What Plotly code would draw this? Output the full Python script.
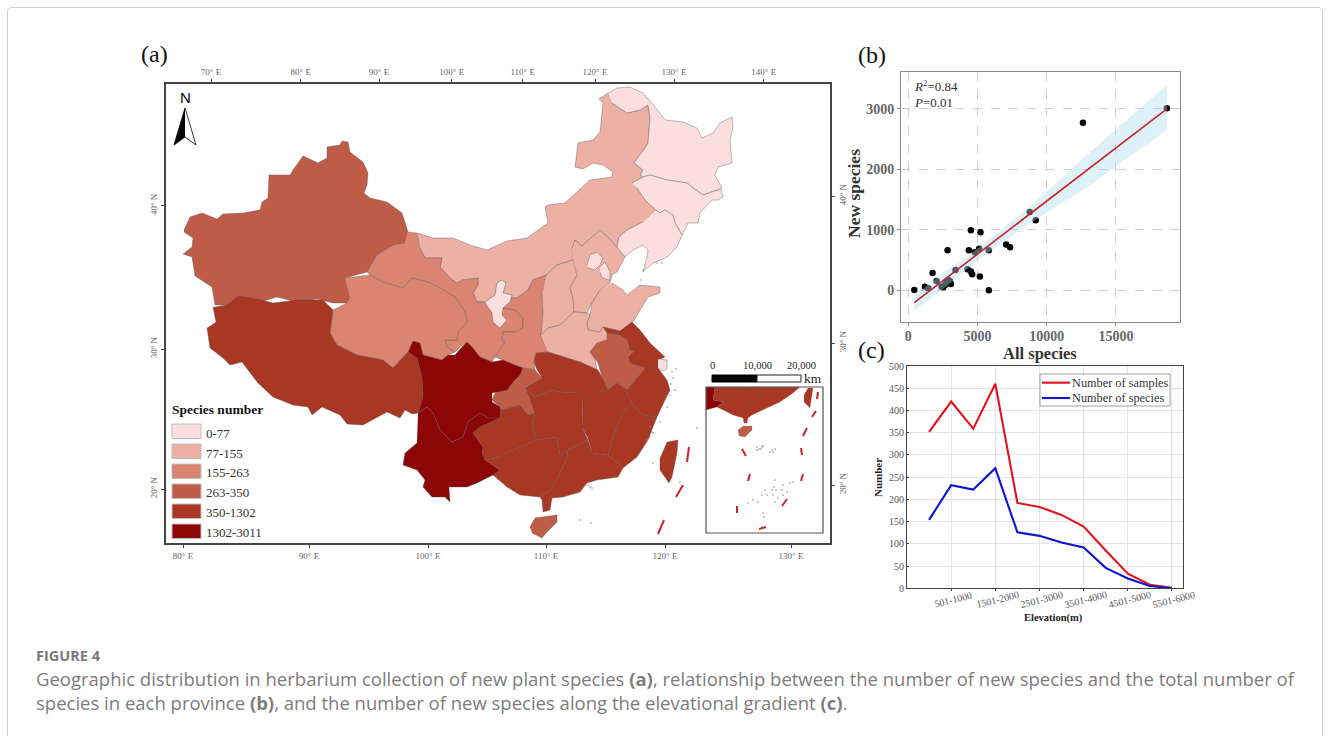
import plotly.graph_objects as go

W, H = 1330, 736
SERIF = "Liberation Serif"

def px(x):
    return x / W

def py(y):
    return 1 - y / H

# ---------- panel (a): species classes ----------
CLASS_LABELS = ["0-77", "77-155", "155-263", "263-350", "350-1302", "1302-3011"]
CLASS_COLOURS = ["#FBDEDD", "#EDB0A4", "#DC8472", "#BF5C48", "#A83723", "#8C0608"]

# Outlines, in the map plane of the figure
XINJIANG = [(184,230),(190,217),(202,213),(217,219),(223,214),(243,213),(260,210),(262,202),(268,198),(269,175),(290,175),(293,170),(303,156),(318,163),(327,158),(327,147),(340,145),(342,141),(348,142),(350,152),(363,162),(368,173),(367,185),(364,193),(370,198),(387,202),(402,213),(408,232),(405,243),(393,245),(377,255),(367,272),(345,278),(350,297),(347,303),(333,303),(317,299),(297,302),(277,297),(260,302),(238,296),(227,305),(215,305),(212,287),(195,276),(192,257),(183,254),(192,247),(193,238),(184,232)]
TIBET = [(215,307),(227,305),(238,296),(258,299),(273,303),(297,300),(323,300),(333,310),(330,333),(337,345),(357,355),(383,360),(393,368),(408,352),(417,358),(422,377),(423,397),(418,413),(412,414),(405,410),(400,418),(387,412),(363,425),(347,424),(340,415),(322,407),(312,415),(308,407),(293,405),(273,397),(258,383),(242,362),(230,365),(223,358),(210,348),(207,328),(212,325),(216,322),(213,307)]
QINGHAI = [(345,278),(370,275),(383,282),(403,288),(412,278),(428,282),(440,288),(455,297),(465,312),(467,322),(458,332),(457,340),(445,340),(447,347),(455,352),(448,355),(442,360),(435,358),(423,355),(420,343),(413,341),(408,352),(393,368),(383,360),(357,355),(337,345),(330,333),(333,310),(347,303),(350,297)]
GANSU = [(408,232),(417,233),(420,248),(425,258),(442,258),(440,267),(450,278),(457,283),(463,280),(478,278),(478,285),(473,293),(477,302),(485,302),(492,312),(493,322),(500,328),(507,320),(502,315),(503,308),(515,310),(523,318),(523,328),(515,332),(503,332),(502,340),(505,342),(498,352),(495,357),(492,362),(480,357),(472,347),(467,342),(460,347),(455,352),(447,347),(445,340),(457,340),(458,332),(467,322),(465,312),(455,297),(440,288),(428,282),(412,278),(403,288),(383,282),(370,275),(367,272),(377,255),(393,245),(405,243)]
NINGXIA = [(485,302),(495,295),(497,283),(502,280),(506,283),(503,293),(512,295),(510,302),(503,308),(502,315),(507,320),(500,328),(493,322),(492,312)]
SHAANXI = [(546,275),(533,280),(528,290),(517,298),(510,298),(510,302),(503,308),(515,310),(523,318),(523,328),(515,332),(503,332),(502,340),(505,342),(498,352),(495,357),(503,360),(515,365),(523,368),(535,370),(534,362),(536,353),(548,352),(541,335),(543,315),(542,293)]
INNER_MONGOLIA = [(417,233),(433,238),(453,238),(470,245),(487,250),(507,241),(527,238),(538,230),(548,223),(545,207),(548,205),(565,203),(582,188),(590,180),(612,177),(613,172),(603,165),(593,163),(583,169),(575,167),(578,143),(593,140),(600,132),(602,113),(603,103),(599,99),(608,93),(612,103),(627,113),(640,110),(648,105),(650,117),(648,143),(645,148),(634,163),(643,170),(640,175),(643,177),(632,183),(637,188),(645,200),(656,210),(643,222),(627,230),(619,237),(617,247),(608,237),(600,230),(582,246),(575,240),(572,248),(573,260),(557,265),(546,275),(533,280),(528,290),(517,298),(510,298),(512,295),(503,293),(506,283),(502,280),(497,283),(495,295),(485,302),(477,302),(473,293),(478,285),(478,278),(463,280),(457,283),(450,278),(440,267),(442,258),(425,258),(420,248)]
HEILONGJIANG = [(608,93),(617,88),(630,87),(643,93),(655,107),(665,120),(683,122),(697,128),(702,138),(713,133),(720,123),(732,117),(733,127),(730,140),(732,163),(718,167),(715,175),(722,188),(703,195),(693,188),(687,183),(667,180),(650,175),(643,177),(640,175),(643,170),(634,163),(645,148),(648,143),(650,117),(648,105),(640,110),(627,113),(612,103)]
JILIN = [(632,183),(643,177),(650,175),(667,180),(687,183),(693,188),(703,195),(721,189),(723,197),(718,200),(712,200),(700,213),(698,223),(688,223),(682,235),(675,223),(673,215),(665,210),(660,213),(656,210),(645,200),(637,188)]
LIAONING = [(656,210),(660,213),(665,210),(673,215),(675,223),(682,235),(677,247),(667,257),(653,263),(643,272),(647,257),(648,250),(643,245),(633,250),(625,257),(617,247),(619,237),(627,230),(643,222)]
HEBEI = [(572,248),(575,240),(582,246),(600,230),(608,237),(617,247),(625,257),(617,272),(612,275),(610,283),(600,290),(592,303),(587,313),(574,312),(573,298),(570,288),(577,275),(573,260)]
BEIJING = [(587,265),(590,255),(597,252),(603,258),(600,265),(595,270),(588,268)]
TIANJIN = [(600,267),(605,262),(610,272),(610,280),(602,278),(600,272)]
SHANXI = [(573,260),(557,265),(546,275),(542,293),(543,315),(541,335),(548,328),(560,325),(574,312),(573,298),(570,288),(577,275)]
SHANDONG = [(612,283),(623,290),(627,295),(640,285),(660,287),(660,293),(648,297),(643,305),(633,322),(620,331),(603,327),(600,332),(588,330),(587,323),(590,315),(592,303),(600,290)]
HENAN = [(541,335),(548,328),(560,325),(574,312),(587,313),(590,315),(587,323),(588,330),(600,332),(603,327),(607,333),(607,340),(597,343),(590,352),(595,360),(597,370),(580,362),(567,358),(548,352)]
JIANGSU = [(603,327),(620,331),(632,322),(640,330),(650,343),(665,357),(658,360),(658,368),(645,368),(630,363),(628,357),(635,350),(630,350),(627,340),(620,335),(607,333)]
SHANGHAI = [(658,359),(667,360),(667,369),(662,371),(658,368)]
ANHUI = [(607,333),(620,335),(627,340),(630,350),(635,350),(628,357),(630,363),(645,368),(637,378),(627,390),(617,383),(608,390),(602,377),(598,363),(590,352),(597,343),(607,340)]
ZHEJIANG = [(645,368),(658,368),(667,380),(670,390),(665,400),(662,407),(657,417),(643,415),(635,407),(628,397),(627,390),(637,378)]
FUJIAN = [(628,397),(635,407),(643,415),(657,417),(653,427),(648,440),(637,457),(623,468),(608,455),(612,440),(623,412),(628,407)]
JIANGXI = [(583,397),(605,390),(608,390),(617,383),(627,390),(628,397),(628,407),(623,412),(612,440),(608,455),(592,453),(588,438),(582,427)]
HUBEI = [(537,370),(534,362),(536,353),(548,352),(567,358),(580,362),(598,370),(602,377),(608,390),(605,390),(583,398),(578,393),(560,392),(552,390),(535,397),(525,388),(542,378)]
CHONGQING = [(523,368),(535,370),(542,378),(525,388),(530,400),(535,413),(528,415),(520,405),(503,410),(492,400),(495,393),(513,382),(520,375)]
HUNAN = [(525,388),(535,397),(552,390),(560,392),(578,393),(583,397),(582,427),(588,440),(568,450),(560,455),(557,437),(537,440),(532,425),(535,413),(530,400)]
GUIZHOU = [(473,433),(480,427),(500,418),(500,408),(503,410),(520,405),(528,415),(535,413),(532,425),(537,440),(513,450),(500,457),(485,460),(482,453),(483,447)]
GUANGXI = [(485,460),(500,457),(513,450),(537,440),(557,437),(560,455),(568,450),(567,458),(558,477),(550,490),(540,497),(520,495),(507,487),(493,475),(500,470)]
GUANGDONG = [(567,458),(568,450),(588,440),(592,453),(608,455),(623,468),(618,477),(597,480),(587,483),(580,492),(563,497),(552,498),(550,510),(543,512),(542,500),(540,497),(550,490),(558,477)]
HAINAN = [(530,527),(535,518),(557,515),(557,522),(547,532),(542,538),(532,533)]
TAIWAN = [(667,442),(678,440),(677,453),(672,477),(669,483),(660,470),(660,458)]
SICHUAN = [(413,341),(420,343),(423,355),(435,358),(442,360),(448,355),(455,355),(462,347),(467,342),(472,347),(480,357),(492,362),(503,360),(515,365),(523,368),(520,375),(513,382),(507,390),(492,393),(492,402),(500,407),(500,418),(488,418),(480,413),(468,422),(463,437),(452,442),(440,430),(433,413),(427,407),(418,413),(423,397),(422,377),(417,358),(408,352)]
YUNNAN = [(418,413),(427,407),(433,413),(440,430),(452,442),(463,437),(468,422),(480,413),(488,418),(500,418),(480,427),(473,433),(483,447),(482,453),(485,460),(500,470),(493,475),(477,483),(467,487),(449,487),(450,502),(445,497),(432,497),(423,487),(425,480),(417,470),(403,465),(405,453),(417,443)]

PROVINCES = [
    (INNER_MONGOLIA, 1), (HEILONGJIANG, 0), (JILIN, 0), (LIAONING, 0), (XINJIANG, 3), (GANSU, 2),
    (QINGHAI, 2), (TIBET, 4), (SHAANXI, 2), (NINGXIA, 0), (SHANXI, 1), (HEBEI, 1), (BEIJING, 0),
    (TIANJIN, 0), (SHANDONG, 1), (HENAN, 1), (JIANGSU, 4), (SHANGHAI, 0), (ANHUI, 3), (ZHEJIANG, 4),
    (FUJIAN, 4), (JIANGXI, 4), (HUBEI, 4), (CHONGQING, 3), (HUNAN, 4), (GUIZHOU, 4), (GUANGXI, 4),
    (GUANGDONG, 4), (HAINAN, 3), (TAIWAN, 4), (SICHUAN, 5), (YUNNAN, 5),
]

SEA_DASHES = [[(689,447),(687,462)], [(683,485),(676,497)], [(664,520),(658,534)]]
COAST_DOTS = [(672,372),(676,369),(673,378),(671,384),(675,390),(670,395),(667,407),(660,422),(652,432),(650,437),(653,463),(680,482),(590,487),(580,520),(591,523),(643,270),(657,263),(662,263),(641,280),(588,485),(592,488),(577,493),(650,427),(653,433),(647,440),(697,428)]

# Inset
INSET_YUNNAN = [(706,387),(715,387),(713,400),(723,402),(717,407),(708,410),(706,410)]
INSET_SOUTH = [(715,387),(800,387),(793,393),(780,402),(767,408),(752,415),(748,418),(747,423),(744,423),(743,418),(733,415),(723,410),(717,407),(723,402),(713,400)]
INSET_HAINAN = [(738,430),(743,426),(752,426),(752,430),(745,437),(739,436)]
INSET_TAIWAN = [(808,388),(813,388),(810,408),(804,402),(804,395)]
INSET_BORDERS = [[(723,402),(737,392),(750,388),(757,387)], [(743,410),(757,400),(758,393),(767,392),(780,387)]]
INSET_DASHES = [[(818,392),(817,399)], [(816,411),(812,417)], [(807,428),(803,436)], [(801,448),(802,455)], [(803,474),(801,481)], [(787,499),(782,506)], [(766,527),(759,529)], [(737,506),(737,513)], [(750,474),(748,481)], [(742,449),(746,456)]]
INSET_DOTS = [(757,447),(759,449),(762,447),(757,450),(761,449),(763,446),(772,450),(775,449),(770,452),(773,452),(775,480),(774,487),(772,490),(776,490),(783,485),(790,483),(793,482),(782,490),(787,492),(765,490),(762,495),(767,495),(753,500),(748,503),(758,502),(773,495),(778,498),(775,502),(783,495),(763,513),(764,517),(762,527)]

ARROW_LEFT = [(185,108),(174,145),(185,137)]
ARROW_RIGHT = [(185,108),(196,145),(185,137)]

MAP_TOP_TICKS = [211, 300.7, 379, 451.7, 522.7, 595, 674, 763.7]
MAP_TOP_TEXT = ["70° E", "80° E", "90° E", "100° E", "110° E", "120° E", "130° E", "140° E"]
MAP_BOTTOM_TICKS = [183, 309, 428, 546, 665, 791]
MAP_BOTTOM_TEXT = ["80° E", "90° E", "100° E", "110° E", "120° E", "130° E"]
MAP_LEFT_TICKS = [205.7, 349, 489]
MAP_RIGHT_TICKS = [196, 343, 485]
MAP_LAT_TEXT = ["40° N", "30° N", "20° N"]

# ---------- panel (b) ----------
ALL_SPECIES = [433,1200,1440,1755,2043,2404,2524,2644,2764,2885,3005,3077,2837,3413,4375,4279,4519,4615,5168,4519,5216,4808,5120,5817,5817,7067,7356,8774,9207,12620,18680]
NEW_SPECIES = [5,60,33,287,154,60,50,88,143,171,154,105,662,336,662,347,309,265,226,993,960,629,689,662,0,756,711,1296,1158,2774,3011]
FIT_X = [433, 18680]
FIT_Y = [-204, 3000]
BAND_X = [433, 2644, 5048, 8774, 12620, 18680]
BAND_UPPER = [-88, 309, 695, 1384, 2184, 3398]
BAND_LOWER = [-342, 44, 502, 1109, 1660, 2653]

# ---------- panel (c) ----------
ELEVATION_BANDS = ["0-500","501-1000","1001-1500","1501-2000","2001-2500","2501-3000","3001-3500","3501-4000","4001-4500","4501-5000","5001-5500","5501-6000"]
SAMPLES = [352, 420, 359, 460, 192, 183, 165, 139, 85, 33, 8, 1]
SPECIES = [154, 232, 222, 270, 126, 118, 103, 92, 46, 22, 5, 0]

fig = go.Figure()

def xs(p):
    return [a for a, _ in p]

def ys(p):
    return [b for _, b in p]

def poly(points, colour, line="rgba(85,85,85,0.65)", width=0.6, name=""):
    fig.add_trace(go.Scatter(x=xs(points), y=ys(points), mode="lines", fill="toself", fillcolor=colour,
                             line=dict(color=line, width=width), hoverinfo="skip", showlegend=False, name=name))

for shape, cls in PROVINCES:
    poly(shape, CLASS_COLOURS[cls])

for dash in SEA_DASHES + INSET_DASHES:
    fig.add_trace(go.Scatter(x=xs(dash), y=ys(dash), mode="lines", line=dict(color="#C8242C", width=2),
                             hoverinfo="skip", showlegend=False))

fig.add_trace(go.Scatter(x=xs(COAST_DOTS + INSET_DOTS), y=ys(COAST_DOTS + INSET_DOTS), mode="markers",
                         marker=dict(color="#8a8a8a", size=1.6), hoverinfo="skip", showlegend=False))

poly(INSET_SOUTH, CLASS_COLOURS[4], line="rgba(120,120,120,0.5)", width=0.4)
poly(INSET_YUNNAN, CLASS_COLOURS[5], line="rgba(120,120,120,0.5)", width=0.4)
poly(INSET_HAINAN, CLASS_COLOURS[3], line="rgba(120,120,120,0.5)", width=0.4)
poly(INSET_TAIWAN, CLASS_COLOURS[4], line="rgba(120,120,120,0.5)", width=0.4)
for b in INSET_BORDERS:
    fig.add_trace(go.Scatter(x=xs(b), y=ys(b), mode="lines", line=dict(color="rgba(90,90,90,0.7)", width=0.6),
                             hoverinfo="skip", showlegend=False))

poly(ARROW_LEFT, "#000000", line="#000000", width=0.8)
poly(ARROW_RIGHT, "#ffffff", line="#000000", width=0.8)

# overlay axes carriers for the map frame's top and right scales
fig.add_trace(go.Scatter(x=[None], y=[None], xaxis="x2", yaxis="y2", hoverinfo="skip", showlegend=False))

# panel (b)
fig.add_trace(go.Scatter(x=ALL_SPECIES, y=NEW_SPECIES, mode="markers", xaxis="x3", yaxis="y3",
                         marker=dict(color="#000000", size=6.5), showlegend=False, name="Provinces"))
fig.add_trace(go.Scatter(x=BAND_X + BAND_X[::-1], y=BAND_UPPER + BAND_LOWER[::-1], mode="lines", fill="toself",
                         xaxis="x3", yaxis="y3", fillcolor="rgba(176,220,238,0.42)", line=dict(width=0),
                         hoverinfo="skip", showlegend=False))
fig.add_trace(go.Scatter(x=FIT_X, y=FIT_Y, mode="lines", xaxis="x3", yaxis="y3",
                         line=dict(color="#C9252B", width=1.6), hoverinfo="skip", showlegend=False))

# panel (c)
SAMPLE_COLOUR, SPECIES_COLOUR = "#E3131B", "#0E14D0"
fig.add_trace(go.Scatter(x=ELEVATION_BANDS, y=SAMPLES, mode="lines", xaxis="x4", yaxis="y4",
                         line=dict(color=SAMPLE_COLOUR, width=2.1), name="Number of samples", showlegend=False))
fig.add_trace(go.Scatter(x=ELEVATION_BANDS, y=SPECIES, mode="lines", xaxis="x4", yaxis="y4",
                         line=dict(color=SPECIES_COLOUR, width=2.1), name="Number of species", showlegend=False))

map_tick = dict(showgrid=False, zeroline=False, ticks="outside", ticklen=3, tickwidth=1, tickcolor="#444",
                showline=True, linecolor="#444", linewidth=2,
                tickfont=dict(family=SERIF, size=9, color="#666"))
X_RANGE = [166, 830]
Y_RANGE = [543, 83.5]

layout = dict(
    width=W, height=H, autosize=False, margin=dict(l=0, r=0, t=0, b=0, autoexpand=False),
    paper_bgcolor="#ffffff", plot_bgcolor="rgba(0,0,0,0)",
    xaxis=dict(domain=[px(166), px(830)], range=X_RANGE, anchor="y", side="bottom", tickmode="array",
               tickvals=MAP_BOTTOM_TICKS, ticktext=MAP_BOTTOM_TEXT, **map_tick),
    yaxis=dict(domain=[py(543), py(83.5)], range=Y_RANGE, anchor="x", side="left", tickmode="array",
               tickvals=MAP_LEFT_TICKS, ticktext=MAP_LAT_TEXT, tickangle=-90, **map_tick),
    xaxis2=dict(domain=[px(166), px(830)], range=X_RANGE, anchor="y2", side="top", overlaying="x", tickmode="array",
                tickvals=MAP_TOP_TICKS, ticktext=MAP_TOP_TEXT, **map_tick),
    yaxis2=dict(domain=[py(543), py(83.5)], range=Y_RANGE, anchor="x2", side="right", overlaying="y", tickmode="array",
                tickvals=MAP_RIGHT_TICKS, ticktext=MAP_LAT_TEXT, tickangle=-90, **map_tick),
    xaxis3=dict(domain=[px(901), px(1180)], range=[-527, 19630], anchor="y3", tickmode="array",
                tickvals=[0, 5000, 10000, 15000], ticktext=["<b>0</b>", "<b>5000</b>", "<b>10000</b>", "<b>15000</b>"],
                showline=True, mirror=True, linecolor="#8a8a8a", linewidth=1, zeroline=False,
                showgrid=True, gridcolor="#cfcfcf", griddash="dash", gridwidth=1,
                ticks="outside", ticklen=3, tickcolor="#8a8a8a", ticklabelstandoff=-2,
                tickfont=dict(family=SERIF, size=14, color="#666")),
    yaxis3=dict(domain=[py(322), py(72)], range=[-525, 3612], anchor="x3", tickmode="array",
                tickvals=[0, 1000, 2000, 3000], ticktext=["<b>0</b>", "<b>1000</b>", "<b>2000</b>", "<b>3000</b>"],
                showline=True, mirror=True, linecolor="#8a8a8a", linewidth=1, zeroline=False,
                showgrid=True, gridcolor="#cfcfcf", griddash="dash", gridwidth=1,
                ticks="outside", ticklen=3, tickcolor="#8a8a8a",
                tickfont=dict(family=SERIF, size=14, color="#666")),
    xaxis4=dict(domain=[px(907), px(1183)], range=[-1, 11.5], anchor="y4", type="category",
                categoryorder="array", categoryarray=ELEVATION_BANDS, tickmode="array",
                tickvals=ELEVATION_BANDS[1::2], showticklabels=False,
                showline=True, mirror=True, linecolor="#444", linewidth=1, zeroline=False,
                showgrid=True, gridcolor="#e4e4e4", gridwidth=1, ticks="outside", ticklen=2, tickcolor="#444"),
    yaxis4=dict(domain=[py(588.3), py(366)], range=[0, 500], anchor="x4", tickmode="linear", tick0=0, dtick=50,
                showline=True, mirror=True, linecolor="#444", linewidth=1, zeroline=False,
                showgrid=True, gridcolor="#e4e4e4", gridwidth=1, ticks="inside", ticklen=2, tickcolor="#444",
                tickfont=dict(family=SERIF, size=10, color="#555")),
    showlegend=False,
    hovermode=False,
)

shapes = []
# page frame
shapes.append(dict(type="path", xref="paper", yref="paper",
                   path=f"M {px(7.5)} 0 L {px(7.5)} {py(12)} Q {px(7.5)} {py(7.5)} {px(12)} {py(7.5)} "
                        f"L {px(1318)} {py(7.5)} Q {px(1322.5)} {py(7.5)} {px(1322.5)} {py(12)} L {px(1322.5)} 0",
                   line=dict(color="#cfcfcf", width=1)))
# inset frame
shapes.append(dict(type="rect", xref="x", yref="y", x0=706, x1=823, y0=387, y1=533,
                   line=dict(color="#555", width=1.2), layer="above"))
# scale bar
shapes.append(dict(type="rect", xref="x", yref="y", x0=712, x1=757, y0=375, y1=382, fillcolor="#000", line=dict(color="#000", width=1)))
shapes.append(dict(type="rect", xref="x", yref="y", x0=757, x1=801, y0=375, y1=382, fillcolor="#fff", line=dict(color="#222", width=1)))
# legend swatches
SWATCH_TOPS = [424, 444, 464, 484, 504, 524]
for top, colour in zip(SWATCH_TOPS, CLASS_COLOURS):
    shapes.append(dict(type="rect", xref="x", yref="y", x0=172, x1=201, y0=top, y1=top + 14.5,
                       fillcolor=colour, line=dict(color="#bdbdbd", width=1)))
# panel (c) legend box and keys
shapes.append(dict(type="rect", xref="paper", yref="paper", x0=px(1040), x1=px(1170), y0=py(406), y1=py(374),
                   fillcolor="#ffffff", line=dict(color="#a0a0a0", width=1), layer="above"))
shapes.append(dict(type="line", xref="paper", yref="paper", x0=px(1042), x1=px(1070), y0=py(382.7), y1=py(382.7),
                   line=dict(color=SAMPLE_COLOUR, width=2.1), layer="above"))
shapes.append(dict(type="line", xref="paper", yref="paper", x0=px(1042), x1=px(1070), y0=py(398), y1=py(398),
                   line=dict(color=SPECIES_COLOUR, width=2.1), layer="above"))
layout["shapes"] = shapes

def note(text, x, y, size, family=SERIF, colour="#222", anchor="left", textangle=0):
    shift = 2 if anchor == "left" else 0
    return dict(text=text, x=px(x - shift), y=py(y), xref="paper", yref="paper", showarrow=False, xanchor=anchor,
                yanchor="middle", textangle=textangle, font=dict(family=family, size=size, color=colour))

anns = [
    note("(a)", 141, 54, 24, colour="#111"),
    note("(b)", 858, 55, 24, colour="#111"),
    note("(c)", 858, 350, 24, colour="#111"),
    note("N", 185, 98, 15, family="Liberation Sans", colour="#000", anchor="center"),
    note("<b>Species number</b>", 172, 409, 13.5, colour="#111"),
    note("0", 712, 366, 10.5, colour="#222", anchor="center"),
    note("10,000", 757, 366, 10.5, colour="#222", anchor="center"),
    note("20,000", 801, 366, 10.5, colour="#222", anchor="center"),
    note("km", 804, 378, 13.5, colour="#222"),
    note("<i>R</i><sup>2</sup>=0.84", 914, 86, 13, colour="#333"),
    note("<i>P</i>=0.01", 914, 102, 13, colour="#333"),
    note("<b>New species</b>", 854, 194, 17.5, colour="#333", anchor="center", textangle=-90),
    note("<b>All species</b>", 1040, 353, 16.5, colour="#333", anchor="center"),
    note("<b>Number</b>", 878, 478, 11, colour="#222", anchor="center", textangle=-90),
    note("<b>Elevation(m)</b>", 1053, 618, 10.5, colour="#222", anchor="center"),
    note("Number of samples", 1072, 382.7, 12.3, colour="#333"),
    note("Number of species", 1072, 398, 12.3, colour="#333"),
    note("<b>FIGURE 4</b>", 36, 655, 14.5, family="Open Sans", colour="#7a7a7a"),
    note("Geographic distribution in herbarium collection of new plant species <b>(a)</b>, relationship between the number of new species and the total number of",
         36, 678, 18.5, family="Open Sans", colour="#7d7d7d"),
    note("species in each province <b>(b)</b>, and the number of new species along the elevational gradient <b>(c)</b>.",
         36, 702, 18.5, family="Open Sans", colour="#7d7d7d"),
]
LEGEND_ROWS = [433, 453, 472, 492, 512, 532]
for row, label in zip(LEGEND_ROWS, CLASS_LABELS):
    anns.append(note(label, 206, row, 13, colour="#333"))
for label in ELEVATION_BANDS[1::2]:
    anns.append(dict(text=label, x=label, xref="x4", y=py(599.5), yref="paper", showarrow=False, xshift=2,
                     xanchor="center", yanchor="middle", textangle=-14,
                     font=dict(family=SERIF, size=10, color="#555")))
layout["annotations"] = anns

fig.update_layout(**layout)
fig.write_html("out.html", config={"displayModeBar": False},
               post_script="document.body.style.margin='0';document.documentElement.style.overflow='hidden';")
